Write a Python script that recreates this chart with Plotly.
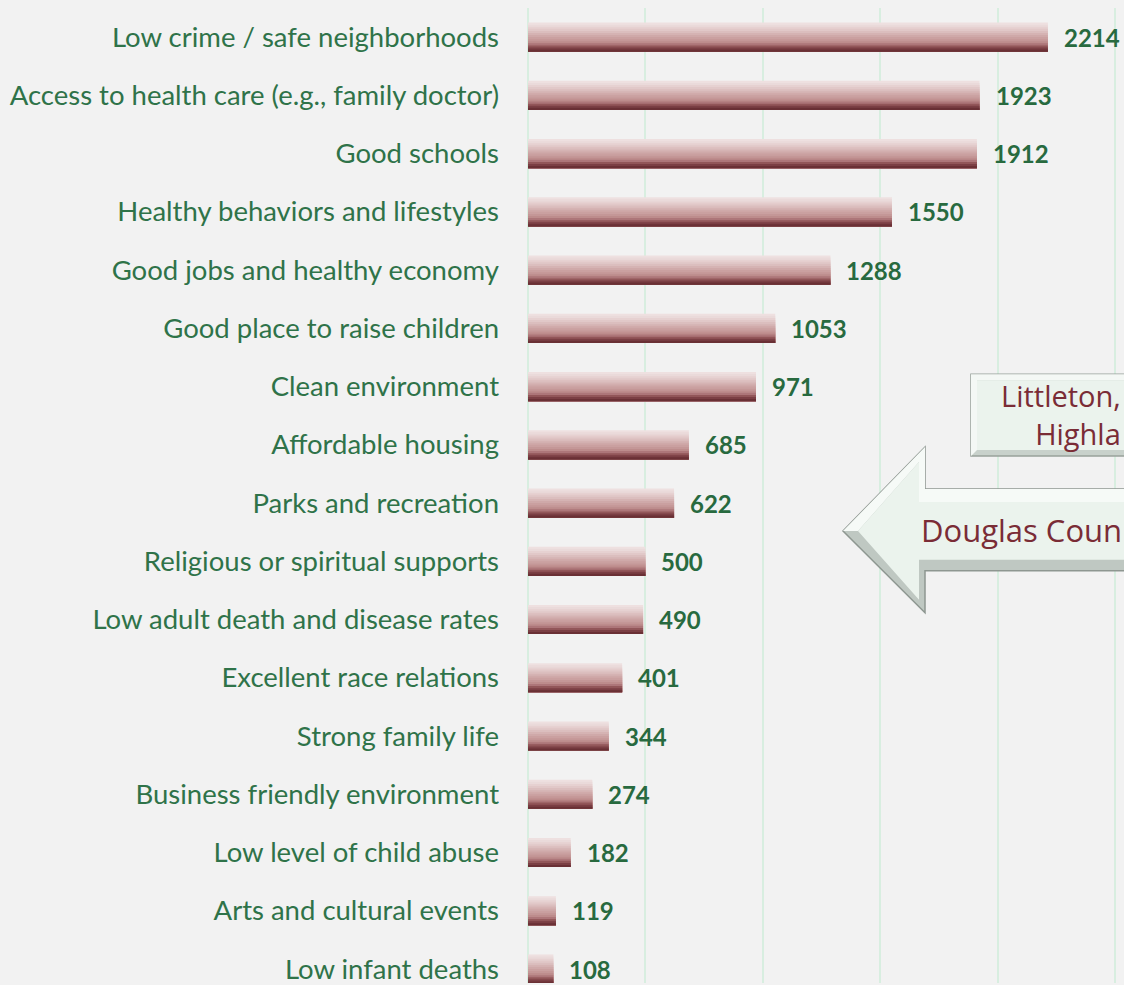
import plotly.graph_objects as go

# ---- data ----
categories = [
    "Low crime / safe neighborhoods",
    "Access to health care (e.g., family doctor)",
    "Good schools",
    "Healthy behaviors and lifestyles",
    "Good jobs and healthy economy",
    "Good place to raise children",
    "Clean environment",
    "Affordable housing",
    "Parks and recreation",
    "Religious or spiritual supports",
    "Low adult death and disease rates",
    "Excellent race relations",
    "Strong family life",
    "Business friendly environment",
    "Low level of child abuse",
    "Arts and cultural events",
    "Low infant deaths",
]
values = [2214, 1923, 1912, 1550, 1288, 1053, 971, 685, 622, 500, 490, 401, 344, 274, 182, 119, 108]

callout_box_lines = ["Littleton,", "Highla"]
callout_arrow_text = "Douglas Coun"

# ---- style ----
W, H = 1124, 985
ML, MR, MT, MB = 528, 0, 8, 0
BG = "#f2f2f2"
LABEL_GREEN = "#2f7349"
VALUE_GREEN = "#286a3f"
MAROON = "#7a2c36"

grad = ["#eee0e0", "#eadada", "#e6d1d1", "#e1c8c8", "#dbbebe", "#d5b3b3",
        "#cfa9a9", "#caa0a0", "#c49797", "#bd8c8c", "#ad7679", "#925659",
        "#7b3f44", "#6a3035"]
bar_w = 0.5

fig = go.Figure()
n = len(grad)
sw = bar_w / n
for i, c in enumerate(grad):
    fig.add_trace(go.Bar(
        x=values, y=categories, orientation="h",
        width=bar_w - i * sw, offset=-bar_w / 2 + i * sw,
        marker=dict(color=c, line=dict(width=0)),
        showlegend=False, hoverinfo="skip" if i else "x+y",
    ))

for cat, v in zip(categories, values):
    fig.add_annotation(x=v, y=cat, text=f"<b>{v}</b>", showarrow=False,
                       xanchor="left", yanchor="middle", xshift=14,
                       font=dict(family="Lato", size=24, color=VALUE_GREEN))

pw = W - ML - MR
ph = H - MT - MB
def px(x):
    return (x - ML) / pw
def py(y):
    return (H - MB - y) / ph

def poly(pts):
    return "M " + " L ".join(f"{px(a):.5f},{py(b):.5f}" for a, b in pts) + " Z"

# Box callout (bevelled)
fig.add_shape(type="path", xref="paper", yref="paper",
              path=poly([(971, 375), (1140, 375), (1140, 457), (971, 457)]),
              fillcolor="#c8d1cb", line=dict(color="#98a19b", width=1.5), layer="above")
fig.add_shape(type="path", xref="paper", yref="paper",
              path=poly([(971, 375), (1140, 375), (1134, 381), (977, 381), (977, 451), (971, 457)]),
              fillcolor="#f4f8f5", line=dict(width=0), layer="above")
fig.add_shape(type="path", xref="paper", yref="paper",
              path=poly([(977, 381), (1140, 381), (1140, 451), (977, 451)]),
              fillcolor="#ebf3ed", line=dict(width=0), layer="above")

# Arrow callout (bevelled)
outer = [(843, 532), (925, 448), (925, 490), (1140, 490), (1140, 572), (925, 572), (925, 614)]
fig.add_shape(type="path", xref="paper", yref="paper", path=poly(outer),
              fillcolor="#bfc8c2", line=dict(color="#8e9791", width=1.5), layer="above")
upper = [(843, 532), (925, 448), (925, 490), (1140, 490), (1140, 503), (919, 503), (919, 463), (858, 532)]
fig.add_shape(type="path", xref="paper", yref="paper", path=poly(upper),
              fillcolor="#f6faf7", line=dict(width=0), layer="above")
inner = [(858, 532), (919, 463), (919, 503), (1140, 503), (1140, 561), (919, 561), (919, 601)]
fig.add_shape(type="path", xref="paper", yref="paper", path=poly(inner),
              fillcolor="#ebf3ed", line=dict(width=0), layer="above")

fig.add_annotation(xref="paper", yref="paper", x=px(1123), y=py(415),
                   text="<br>".join(callout_box_lines),
                   showarrow=False, xanchor="right", yanchor="middle", align="right",
                   font=dict(family="Open Sans", size=29, color=MAROON))
fig.add_annotation(xref="paper", yref="paper", x=px(919), y=py(531), text=callout_arrow_text,
                   showarrow=False, xanchor="left", yanchor="middle",
                   font=dict(family="Open Sans", size=31, color=MAROON))

fig.update_layout(
    width=W, height=H,
    margin=dict(l=ML, r=MR, t=MT, b=MB, pad=0),
    paper_bgcolor=BG, plot_bgcolor=BG,
    barmode="overlay", bargap=0.5,
    showlegend=False,
    xaxis=dict(range=[0, pw / 0.2348], tick0=0, dtick=500, showgrid=True,
               gridcolor="#d8eee0", gridwidth=2, zeroline=True, zerolinecolor="#d8eee0",
               zerolinewidth=2, showticklabels=False, ticks="", fixedrange=True),
    yaxis=dict(type="category", range=[16.24, -0.5], showgrid=False, ticks="",
               ticklabelstandoff=28, zeroline=False, showline=False,
               tickfont=dict(family="Lato", size=27.5, color=LABEL_GREEN), fixedrange=True),
)

fig.write_html("out.html", config={"displayModeBar": False},
               post_script="document.body.style.margin='0';document.body.style.overflow='hidden';")
